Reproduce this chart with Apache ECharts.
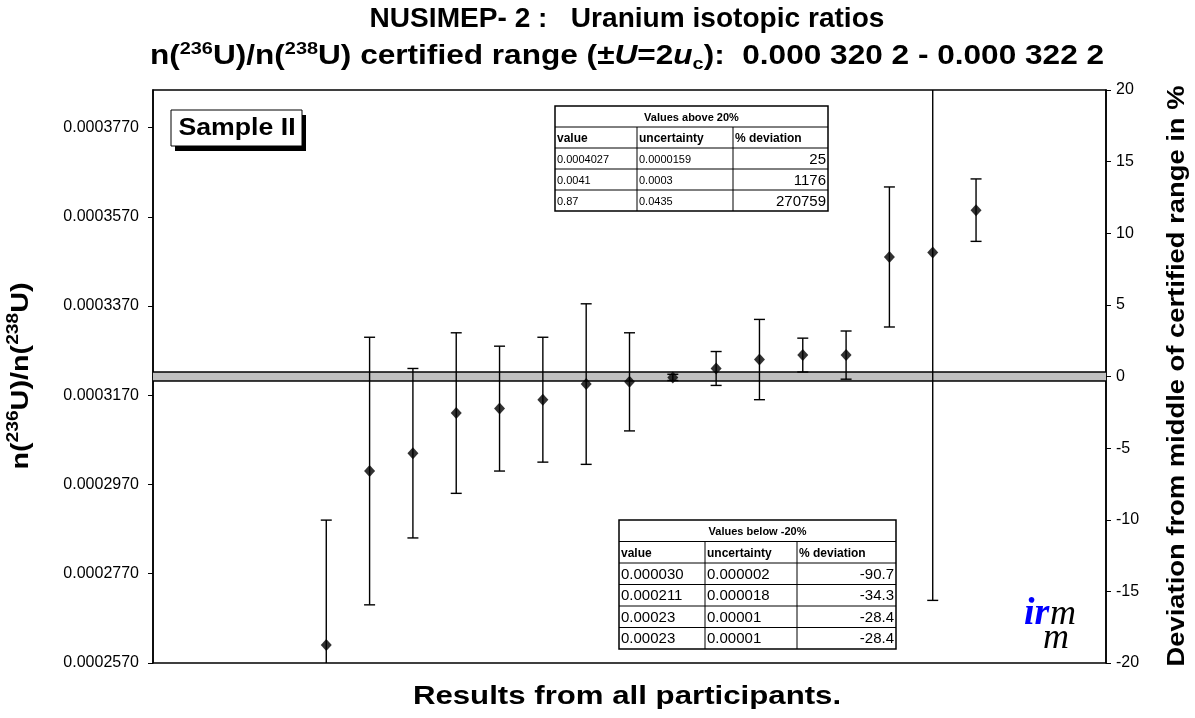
<!DOCTYPE html>
<html>
<head>
<meta charset="utf-8">
<script src="https://cdn.jsdelivr.net/npm/echarts@6/dist/echarts.min.js"></script>
<style>
  html, body { margin: 0; padding: 0; background: #fff; }
  #chart { width: 1195px; height: 718px; }
</style>
</head>
<body>
<div id="chart"></div>
<script>
// Participant results, sorted by value; rank = position along the x axis
const rank = [4, 5, 6, 7, 8, 9, 10, 11, 12, 13, 14, 15, 16, 17, 18, 19];
const ratio = [0.000261, 0.0003, 0.000304, 0.000313, 0.000314, 0.000316, 0.0003195, 0.00032,
               0.000321, 0.000323, 0.000325, 0.000326, 0.000326, 0.000348, 0.000349, 0.0003585];
const uncertainty = [0.000028, 0.00003, 0.000019, 0.000018, 0.000014, 0.000014, 0.000018, 0.000011,
                     0.0000007, 0.0000038, 0.000009, 0.0000038, 0.0000054, 0.0000157, 0.000078, 0.000007];

// Certified range of n(236U)/n(238U)
const certLow = 0.0003202;
const certHigh = 0.0003222;

// Axis ticks
const ratioTicks = [0.000257, 0.000277, 0.000297, 0.000317, 0.000337, 0.000357, 0.000377];
const deviationLimit = 20;
const rankMax = 22;

// Out-of-range results listed in the tables
const tableHeader = ['value', 'uncertainty', '% deviation'];
const aboveRows = [
  ['0.0004027', '0.0000159', '25'],
  ['0.0041', '0.0003', '1176'],
  ['0.87', '0.0435', '270759']
];
const belowRows = [
  ['0.000030', '0.000002', '-90.7'],
  ['0.000211', '0.000018', '-34.3'],
  ['0.00023', '0.00001', '-28.4'],
  ['0.00023', '0.00001', '-28.4']
];

const certMid = (certLow + certHigh) / 2;
const yMin = certMid * (1 - deviationLimit / 100);
const yMax = certMid * (1 + deviationLimit / 100);

const SANS = '"Liberation Sans", Arial, sans-serif';
const SERIF = '"Liberation Serif", "Times New Roman", serif';

function makeTable(x0, y0, colW, headH, rowH, title, rows, valueFont, devFont) {
  const totalW = colW.reduce((a, b) => a + b, 0);
  const nRows = rows.length + 1;
  const totalH = headH + nRows * rowH;
  const els = [];
  els.push({ type: 'rect', shape: { x: x0, y: y0, width: totalW, height: totalH },
             style: { fill: '#fff', stroke: '#000', lineWidth: 1.5 }, z: 10 });
  // horizontal rules
  for (let r = 0; r <= nRows - 1; r++) {
    const yy = y0 + headH + r * rowH;
    els.push({ type: 'line', shape: { x1: x0, y1: yy, x2: x0 + totalW, y2: yy },
               style: { stroke: '#000', lineWidth: 1 }, z: 11 });
  }
  // vertical rules below the title row
  let cx = x0;
  for (let c = 0; c < colW.length - 1; c++) {
    cx += colW[c];
    els.push({ type: 'line', shape: { x1: cx, y1: y0 + headH, x2: cx, y2: y0 + totalH },
               style: { stroke: '#000', lineWidth: 1 }, z: 11 });
  }
  els.push({ type: 'text', x: x0 + totalW / 2, y: y0 + headH / 2 + 1, z: 12,
             style: { text: title, font: 'bold 11px ' + SANS, fill: '#000', align: 'center', verticalAlign: 'middle' } });
  const allRows = [tableHeader].concat(rows);
  allRows.forEach((row, r) => {
    const cy = y0 + headH + r * rowH + rowH / 2 + 1;
    let left = x0;
    row.forEach((cell, c) => {
      const isHead = r === 0;
      const rightAlign = !isHead && c === colW.length - 1;
      els.push({ type: 'text', x: rightAlign ? left + colW[c] - 2 : left + 2, y: cy, z: 12,
                 style: { text: cell,
                          font: isHead ? 'bold 12px ' + SANS : (c === colW.length - 1 ? devFont : valueFont),
                          fill: '#000', align: rightAlign ? 'right' : 'left', verticalAlign: 'middle' } });
      left += colW[c];
    });
  });
  return els;
}

const chart = echarts.init(document.getElementById('chart'), null, { renderer: 'canvas' });

const graphics = [
  // title
  { type: 'text', x: 627, y: 20, scaleX: 1.04, style: { text: 'NUSIMEP- 2 :   Uranium isotopic ratios',
      font: 'bold 27px ' + SANS, fill: '#000', align: 'center', verticalAlign: 'middle' } },
  { type: 'text', x: 627, y: 57, scaleX: 1.17, style: {
      text: '{t|n(}{s|236}{t|U)/n(}{s|238}{t|U) certified range (±}{i|U}{t|=2}{i|u}{c|c}{t|):  0.000 320 2 - 0.000 322 2}',
      align: 'center', verticalAlign: 'middle', fill: '#000',
      rich: {
        t: { font: 'bold 27px ' + SANS, lineHeight: 32, verticalAlign: 'middle' },
        i: { font: 'bold italic 27px ' + SANS, lineHeight: 32, verticalAlign: 'middle' },
        s: { font: 'bold 17px ' + SANS, lineHeight: 19, verticalAlign: 'top' },
        c: { font: 'bold 17px ' + SANS, lineHeight: 19, verticalAlign: 'bottom' }
      } } },
  // axis names
  { type: 'text', x: 21, y: 376, rotation: Math.PI / 2, scaleX: 1.2, style: {
      text: '{t|n(}{s|236}{t|U)/n(}{s|238}{t|U)}', align: 'center', verticalAlign: 'middle', fill: '#000',
      rich: {
        t: { font: 'bold 24px ' + SANS, lineHeight: 30, verticalAlign: 'middle' },
        s: { font: 'bold 16px ' + SANS, lineHeight: 18, verticalAlign: 'top' }
      } } },
  { type: 'text', x: 1178, y: 376, rotation: Math.PI / 2, scaleX: 1.19, style: {
      text: 'Deviation from middle of certified range in %', font: 'bold 23px ' + SANS,
      fill: '#000', align: 'center', verticalAlign: 'middle' } },
  { type: 'text', x: 627, y: 697, scaleX: 1.2, style: { text: 'Results from all participants.',
      font: 'bold 26px ' + SANS, fill: '#000', align: 'center', verticalAlign: 'middle' } },
  // sample label with drop shadow
  { type: 'rect', shape: { x: 175, y: 115, width: 131, height: 36 }, style: { fill: '#000' }, z: 10 },
  { type: 'rect', shape: { x: 171, y: 110, width: 131, height: 36 },
    style: { fill: '#fff', stroke: '#000', lineWidth: 1 }, z: 11 },
  { type: 'text', x: 237, y: 129, z: 12, scaleX: 1.16, style: { text: 'Sample II', font: 'bold 23px ' + SANS,
      fill: '#000', align: 'center', verticalAlign: 'middle' } },
  // institute mark
  { type: 'text', x: 1024, y: 614, z: 12, style: { text: 'ir', font: 'bold italic 38px ' + SERIF,
      fill: '#0000ff', align: 'left', verticalAlign: 'middle' } },
  { type: 'text', x: 1050, y: 615, z: 12, style: { text: 'm', font: 'italic 36px ' + SERIF,
      fill: '#000', align: 'left', verticalAlign: 'middle' } },
  { type: 'text', x: 1043, y: 639, z: 12, style: { text: 'm', font: 'italic 36px ' + SERIF,
      fill: '#000', align: 'left', verticalAlign: 'middle' } }
].concat(
  makeTable(555, 106, [82, 96, 95], 21, 21, 'Values above 20%', aboveRows,
            '11px ' + SANS, '15px ' + SANS),
  makeTable(619, 520, [86, 92, 99], 21.5, 21.5, 'Values below -20%', belowRows,
            '15px ' + SANS, '15px ' + SANS)
);

const option = {
  backgroundColor: '#fff',
  animation: false,
  grid: { left: 153, right: 89, top: 90, bottom: 55, show: true, borderColor: '#000', borderWidth: 1.5,
          backgroundColor: 'transparent' },
  xAxis: {
    type: 'value', min: 0, max: rankMax,
    axisLine: { show: true, lineStyle: { color: '#000', width: 1.5 } },
    axisTick: { show: false }, axisLabel: { show: false }, splitLine: { show: false }
  },
  yAxis: [
    {
      type: 'value', min: yMin, max: yMax, position: 'left',
      axisLine: { show: true, lineStyle: { color: '#000', width: 1.5 } },
      axisTick: { show: true, length: 5, inside: false, customValues: ratioTicks, lineStyle: { color: '#000' } },
      axisLabel: { show: true, customValues: ratioTicks, margin: 14, color: '#000',
                   fontFamily: SANS, fontSize: 16, formatter: v => v.toFixed(7) },
      splitLine: { show: false }
    },
    {
      type: 'value', min: -deviationLimit, max: deviationLimit, interval: 5, position: 'right',
      axisLine: { show: true, lineStyle: { color: '#000', width: 1.5 } },
      axisTick: { show: true, length: 5, inside: false, lineStyle: { color: '#000' } },
      axisLabel: { show: true, margin: 10, color: '#000', fontFamily: SANS, fontSize: 16 },
      splitLine: { show: false }
    }
  ],
  graphic: graphics,
  series: [
    {
      // certified range band
      type: 'custom', yAxisIndex: 0, z: 1, silent: true,
      data: [[certLow, certHigh]],
      renderItem: (params, api) => {
        const cs = params.coordSys;
        const yTop = api.coord([0, api.value(1)])[1];
        const yBot = api.coord([0, api.value(0)])[1];
        return { type: 'group', children: [
          { type: 'rect', shape: { x: cs.x, y: yTop, width: cs.width, height: yBot - yTop },
            style: { fill: '#c0c0c0' } },
          { type: 'line', shape: { x1: cs.x, y1: yTop, x2: cs.x + cs.width, y2: yTop },
            style: { stroke: '#000', lineWidth: 1.5 } },
          { type: 'line', shape: { x1: cs.x, y1: yBot, x2: cs.x + cs.width, y2: yBot },
            style: { stroke: '#000', lineWidth: 1.5 } }
        ] };
      }
    },
    {
      // expanded uncertainty bars
      type: 'custom', yAxisIndex: 0, z: 2, silent: true, clip: true,
      data: rank.map((r, i) => [r, ratio[i], uncertainty[i]]),
      renderItem: (params, api) => {
        const x = api.value(0), v = api.value(1), u = api.value(2);
        const hi = v + u, lo = v - u;
        const pTop = api.coord([x, Math.min(hi, yMax)]);
        const pBot = api.coord([x, Math.max(lo, yMin)]);
        const half = 5.5;
        const style = { stroke: '#000', lineWidth: 1.4 };
        const children = [{ type: 'line', shape: { x1: pTop[0], y1: pTop[1], x2: pBot[0], y2: pBot[1] }, style }];
        if (hi <= yMax) children.push({ type: 'line', shape: { x1: pTop[0] - half, y1: pTop[1], x2: pTop[0] + half, y2: pTop[1] }, style });
        if (lo >= yMin) children.push({ type: 'line', shape: { x1: pBot[0] - half, y1: pBot[1], x2: pBot[0] + half, y2: pBot[1] }, style });
        return { type: 'group', children };
      }
    },
    {
      type: 'scatter', yAxisIndex: 0, z: 3, silent: true,
      symbol: 'diamond', symbolSize: [11, 12],
      itemStyle: { color: '#000' },
      data: rank.map((r, i) => [r, ratio[i]])
    }
  ]
};

chart.setOption(option);
</script>
</body>
</html>
